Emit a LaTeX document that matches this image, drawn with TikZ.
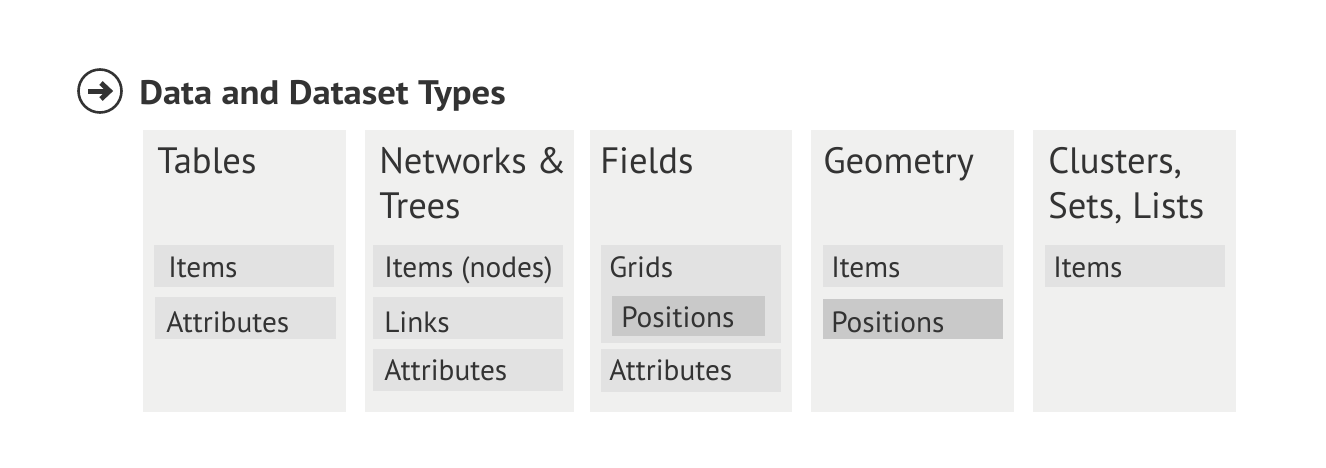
\documentclass[tikz,border=0pt]{standalone}
\usepackage{fontspec}
\setmainfont{PT Sans}
\newfontfamily\headfont{PT Sans}[FakeStretch=1.08]
\begin{document}
\newdimen\px \px=0.75pt
\definecolor{ink}{HTML}{333333}
\definecolor{panelbg}{HTML}{F0F0EF}
\definecolor{subbg}{HTML}{E2E2E2}
\definecolor{darkbg}{HTML}{C9C9C9}
\begin{tikzpicture}[x=0.75pt,y=-0.75pt,
  panel/.style={fill=panelbg},
  sub/.style={fill=subbg},
  subdark/.style={fill=darkbg},
  ttl/.style={anchor=base west,inner sep=0pt,text=ink,font=\fontsize{27.5}{33.75}\selectfont,align=left},
  itm/.style={anchor=base west,inner sep=0pt,text=ink,font=\fontsize{22}{26}\selectfont},
  hdr/.style={anchor=base west,inner sep=0pt,text=ink,font=\headfont\bfseries\fontsize{25.5}{30}\selectfont}]
\useasboundingbox[fill=white] (0,0) rectangle (1326,467);

% heading with circled arrow
\draw[ink,line width=2.6\px] (100,91) circle (21.5);
\draw[ink,line width=5\px] (88,91) -- (108,91);
\draw[ink,line width=5\px,line join=miter] (101,83) -- (109.5,91) -- (101,99);
\node[hdr] (head) at (139,104) {Data and Dataset Types};

% panels
\fill[panel] (143,130) rectangle (346,412);
\fill[panel] (365,130) rectangle (574,412);
\fill[panel] (590,130) rectangle (792,412);
\fill[panel] (811,130) rectangle (1014,412);
\fill[panel] (1033,130) rectangle (1236,412);

% Tables
\node[ttl] (tables) at (157,173) {Tables};
\fill[sub] (154,245) rectangle (334,287);
\node[itm] (tab-items) at (168,277) {Items};
\fill[sub] (155,297) rectangle (336,339);
\node[itm] (tab-attr) at (166,332) {Attributes};

% Networks & Trees (two lines: node placed on the second baseline)
\node[ttl] (networks) at (379,218) {Networks \&\\Trees};
\fill[sub] (373,245) rectangle (563,287);
\node[itm] (net-items) at (384,277) {Items (nodes)};
\fill[sub] (373,297) rectangle (563,339);
\node[itm] (net-links) at (384,332) {Links};
\fill[sub] (373,349) rectangle (563,391);
\node[itm] (net-attr) at (384,380) {Attributes};

% Fields
\node[ttl] (fields) at (600,173) {Fields};
\fill[sub] (601,245) rectangle (781,343);
\node[itm] (fld-grids) at (609,277) {Grids};
\fill[subdark] (612,296) rectangle (765,336);
\node[itm] (fld-pos) at (621,327) {Positions};
\fill[sub] (601,349) rectangle (781,392);
\node[itm] (fld-attr) at (609,380) {Attributes};

% Geometry
\node[ttl] (geometry) at (823,173) {Geometry};
\fill[sub] (823,245) rectangle (1003,287);
\node[itm] (geo-items) at (831,277) {Items};
\fill[subdark] (823,299) rectangle (1003,339);
\node[itm] (geo-pos) at (831,332) {Positions};

% Clusters, Sets, Lists
\node[ttl] (clusters) at (1048,218) {Clusters,\\Sets, Lists};
\fill[sub] (1045,245) rectangle (1225,287);
\node[itm] (clu-items) at (1053,277) {Items};
\end{tikzpicture}
\end{document}
